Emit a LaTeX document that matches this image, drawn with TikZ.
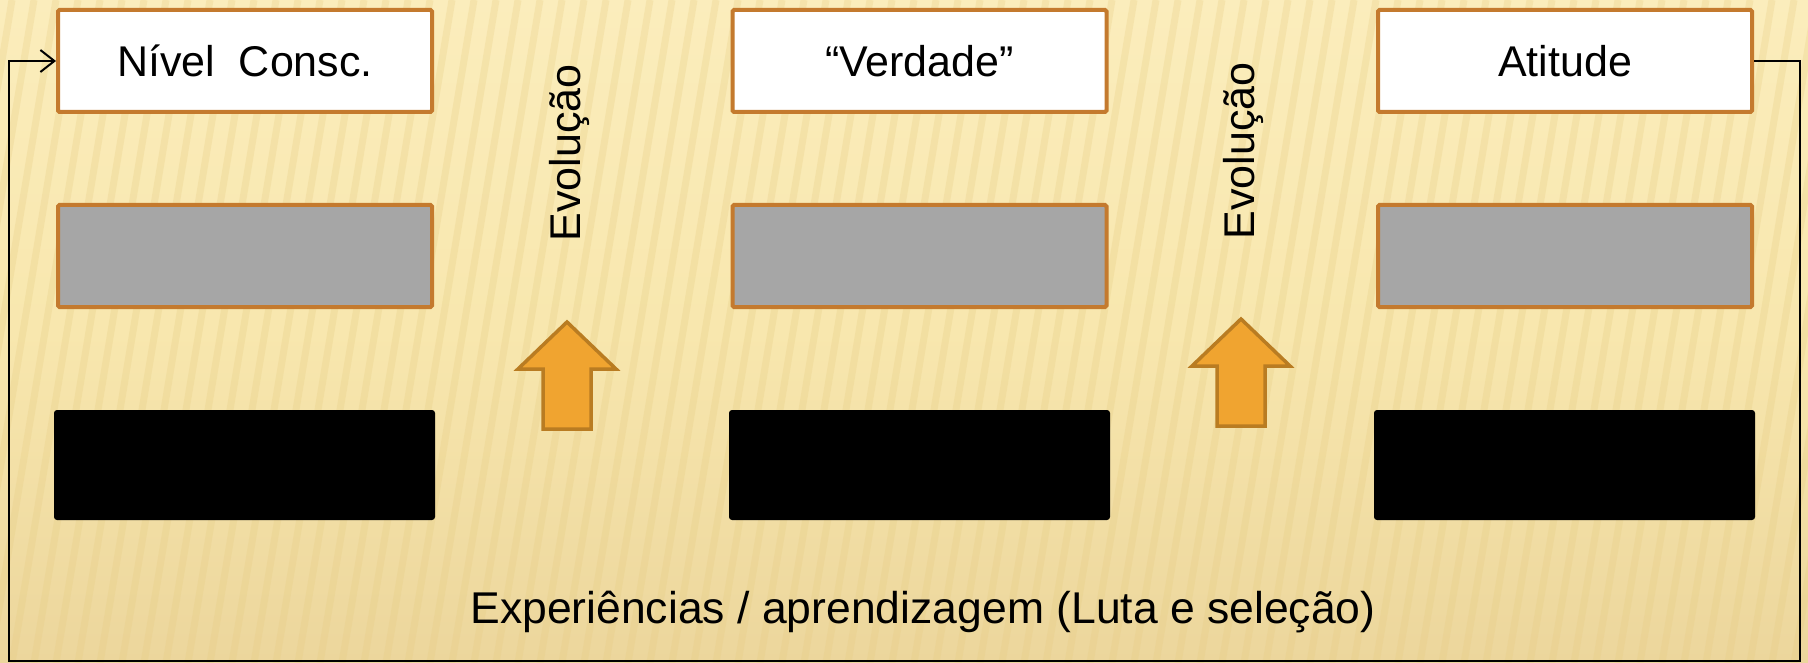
\documentclass[tikz,border=0pt]{standalone}
\usepackage{fontspec}
\setmainfont{Liberation Sans}
\usetikzlibrary{arrows.meta}
\definecolor{bgL}{HTML}{FBEDBC}
\definecolor{bgM}{HTML}{F8E7AE}
\definecolor{bgR}{HTML}{ECD69C}
\definecolor{stripe}{HTML}{E6CC82}
\definecolor{boxborder}{HTML}{C47A2E}
\definecolor{grayfill}{HTML}{A6A6A6}
\definecolor{arrowfill}{HTML}{F0A430}
\definecolor{arrowborder}{HTML}{B97C22}
\tikzset{
  topbox/.style={draw=boxborder, line width=4pt, fill=white, rounded corners=1.5pt,
    minimum width=374pt, minimum height=102pt, inner sep=0pt,
    font=\fontsize{43}{50}\selectfont, text height=31pt, text depth=0pt},
  graybox/.style={draw=boxborder, line width=4pt, fill=grayfill, rounded corners=1.5pt,
    minimum width=374pt, minimum height=102pt, inner sep=0pt},
  blackbox/.style={fill=black, rounded corners=3pt, minimum width=381pt, minimum height=110pt, inner sep=0pt},
  evol/.style={rotate=90, anchor=base, font=\fontsize{43}{50}\selectfont, inner sep=0pt},
  bigarrow/.style={draw=arrowborder, line width=3.5pt, fill=arrowfill, line join=miter},
  loopline/.style={draw=black, line width=2pt},
}
\begin{document}
\begin{tikzpicture}[x=1pt,y=-1pt]
\useasboundingbox (0,0) rectangle (1808,663);
% background
\shade[left color=bgL, right color=bgR, middle color=bgM, shading angle=0] (0,0) rectangle (1808,663);
\begin{scope}
\clip (0,0) rectangle (1808,663);
\foreach \i in {0,...,100} {
  \draw[stripe, opacity=0.28, line width=7pt] ({-120+\i*22},663) -- ({-120+\i*22+110},0);
}
\end{scope}
% top boxes
\node[topbox] (a1) at (245,61) {Nível\ \ Consc.};
\node[topbox] (a2) at (919.5,61) {“Verdade”};
\node[topbox] (a3) at (1565,61) {Atitude};
% gray boxes
\node[graybox] (g1) at (245,256) {};
\node[graybox] (g2) at (919.5,256) {};
\node[graybox] (g3) at (1565,256) {};
% black boxes
\node[blackbox] (b1) at (244.5,465) {};
\node[blackbox] (b2) at (919.5,465) {};
\node[blackbox] (b3) at (1564.5,465) {};
% evolution labels
\node[evol] (e1) at (580,153) {Evolução};
\node[evol] (e2) at (1254,151) {Evolução};
% up arrows
\draw[bigarrow] (567,322) -- (616,369) -- (591,369) -- (591,429) -- (543,429) -- (543,369) -- (518,369) -- cycle;
\draw[bigarrow] (1241,319) -- (1290,366) -- (1265,366) -- (1265,426) -- (1217,426) -- (1217,366) -- (1192,366) -- cycle;
% bottom text
\node[anchor=base, font=\fontsize{44.5}{50}\selectfont, inner sep=0pt] (exp) at (923,623) {Experiências / aprendizagem (Luta e seleção)};
% feedback loop
\coordinate (tr) at (1800,61);
\coordinate (br) at (1800,661);
\coordinate (bl) at (9,661);
\coordinate (tl) at (9,61);
\draw[loopline, -{Straight Barb[length=14pt,width=22pt,line width=2pt]}] (a3.east) -- (tr) -- (br) -- (bl) -- (tl) -- (a1.west);
\end{tikzpicture}
\end{document}
